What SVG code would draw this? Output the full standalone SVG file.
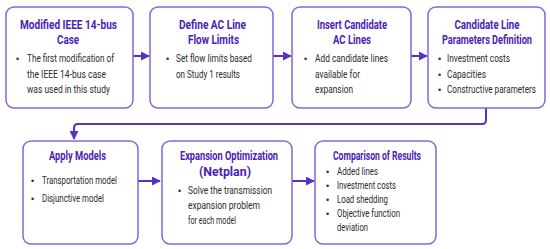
<svg xmlns="http://www.w3.org/2000/svg" width="550" height="249" viewBox="0 0 550 249">
<defs>
<style>
.box{fill:#ffffff;stroke:#8466dc;stroke-width:1.5}
.t{font-family:Roboto,"Liberation Sans",sans-serif;font-weight:bold;font-size:12.5px;fill:#4a22b4;text-anchor:middle}
.b{font-family:Roboto,"Liberation Sans",sans-serif;font-size:10.5px;fill:#2b2b2b}
.d{font-family:"Liberation Sans",sans-serif;font-size:9px;fill:#2b2b2b}
.c{fill:none;stroke:#5a2fc4;stroke-width:2}
</style>
<marker id="ah" viewBox="0 0 10 10" refX="9" refY="5" markerWidth="4.5" markerHeight="4.5" orient="auto" markerUnits="strokeWidth">
<path d="M0,0 L10,5 L0,10 z" fill="#5a2fc4"/>
</marker>
</defs>
<rect width="550" height="249" fill="#ffffff"/>
<g id="connectors">
<line class="c" x1="133" y1="56" x2="149" y2="56" marker-end="url(#ah)"/>
<line class="c" x1="273" y1="56" x2="291" y2="56" marker-end="url(#ah)"/>
<line class="c" x1="411" y1="56" x2="427" y2="56" marker-end="url(#ah)"/>
<path class="c" d="M486,108 V120 Q486,124 482,124 H78 Q74,124 74,128 V139" marker-end="url(#ah)"/>
<line class="c" x1="138" y1="181" x2="160" y2="181" marker-end="url(#ah)"/>
<line class="c" x1="292" y1="181" x2="314" y2="181" marker-end="url(#ah)"/>
</g>
<g id="node1">
<rect class="box" x="6" y="7" width="127" height="101" rx="8"/>
<text class="t" x="68.5" y="29" textLength="97" lengthAdjust="spacingAndGlyphs">Modified IEEE 14-bus</text>
<text class="t" x="68" y="44" textLength="22" lengthAdjust="spacingAndGlyphs">Case</text>
<text class="d" x="16" y="62">•</text>
<text class="b" x="27" y="62" textLength="87" lengthAdjust="spacingAndGlyphs">The first modification of</text>
<text class="b" x="27" y="77.5" textLength="79" lengthAdjust="spacingAndGlyphs">the IEEE 14-bus case</text>
<text class="b" x="27" y="93" textLength="83" lengthAdjust="spacingAndGlyphs">was used in this study</text>
</g>
<g id="node2">
<rect class="box" x="150" y="7" width="123" height="101" rx="8"/>
<text class="t" x="212.5" y="29" textLength="67" lengthAdjust="spacingAndGlyphs">Define AC Line</text>
<text class="t" x="213.5" y="44" textLength="51" lengthAdjust="spacingAndGlyphs">Flow Limits</text>
<text class="d" x="166" y="62">•</text>
<text class="b" x="176" y="62" textLength="76" lengthAdjust="spacingAndGlyphs">Set flow limits based</text>
<text class="b" x="176" y="77.5" textLength="64" lengthAdjust="spacingAndGlyphs">on Study 1 results</text>
</g>
<g id="node3">
<rect class="box" x="292" y="7" width="119" height="101" rx="8"/>
<text class="t" x="352" y="29" textLength="70" lengthAdjust="spacingAndGlyphs">Insert Candidate</text>
<text class="t" x="352" y="44" textLength="38" lengthAdjust="spacingAndGlyphs">AC Lines</text>
<text class="d" x="304" y="62">•</text>
<text class="b" x="315" y="62" textLength="73" lengthAdjust="spacingAndGlyphs">Add candidate lines</text>
<text class="b" x="315" y="77.5" textLength="45" lengthAdjust="spacingAndGlyphs">available for</text>
<text class="b" x="315" y="93" textLength="38" lengthAdjust="spacingAndGlyphs">expansion</text>
</g>
<g id="node4">
<rect class="box" x="428" y="7" width="117" height="101" rx="8"/>
<text class="t" x="487" y="29" textLength="65" lengthAdjust="spacingAndGlyphs">Candidate Line</text>
<text class="t" x="487" y="44" textLength="90" lengthAdjust="spacingAndGlyphs">Parameters Definition</text>
<text class="d" x="438" y="62">•</text>
<text class="b" x="447" y="62" textLength="63" lengthAdjust="spacingAndGlyphs">Investment costs</text>
<text class="d" x="438" y="77.5">•</text>
<text class="b" x="447" y="77.5" textLength="39" lengthAdjust="spacingAndGlyphs">Capacities</text>
<text class="d" x="438" y="93">•</text>
<text class="b" x="447" y="93" textLength="89" lengthAdjust="spacingAndGlyphs">Constructive parameters</text>
</g>
<g id="node5">
<rect class="box" x="23" y="141" width="115" height="103" rx="8"/>
<text class="t" x="77.5" y="160" textLength="57" lengthAdjust="spacingAndGlyphs">Apply Models</text>
<text class="d" x="31" y="184">•</text>
<text class="b" x="42" y="184" textLength="75" lengthAdjust="spacingAndGlyphs">Transportation model</text>
<text class="d" x="31" y="202">•</text>
<text class="b" x="42" y="202" textLength="62" lengthAdjust="spacingAndGlyphs">Disjunctive model</text>
</g>
<g id="node6">
<rect class="box" x="162" y="141" width="130" height="103" rx="8"/>
<text class="t" x="229" y="160" textLength="98" lengthAdjust="spacingAndGlyphs">Expansion Optimization</text>
<text class="t" x="225" y="176" textLength="52" lengthAdjust="spacingAndGlyphs">(Netplan)</text>
<text class="d" x="178" y="194">•</text>
<text class="b" x="188" y="194" textLength="84" lengthAdjust="spacingAndGlyphs">Solve the transmission</text>
<text class="b" x="188" y="209" textLength="72" lengthAdjust="spacingAndGlyphs">expansion problem</text>
<text class="b" x="188" y="223.5" textLength="48" lengthAdjust="spacingAndGlyphs">for each model</text>
</g>
<g id="node7">
<rect class="box" x="315" y="141" width="121" height="103" rx="8"/>
<text class="t" x="377" y="160" textLength="88" lengthAdjust="spacingAndGlyphs">Comparison of Results</text>
<text class="d" x="326" y="175">•</text>
<text class="b" x="337" y="175" textLength="41" lengthAdjust="spacingAndGlyphs">Added lines</text>
<text class="d" x="326" y="189">•</text>
<text class="b" x="337" y="189" textLength="59" lengthAdjust="spacingAndGlyphs">Investment costs</text>
<text class="d" x="326" y="203">•</text>
<text class="b" x="337" y="203" textLength="51" lengthAdjust="spacingAndGlyphs">Load shedding</text>
<text class="d" x="326" y="217">•</text>
<text class="b" x="337" y="217" textLength="63" lengthAdjust="spacingAndGlyphs">Objective function</text>
<text class="b" x="337" y="231" textLength="31" lengthAdjust="spacingAndGlyphs">deviation</text>
</g>
</svg>
